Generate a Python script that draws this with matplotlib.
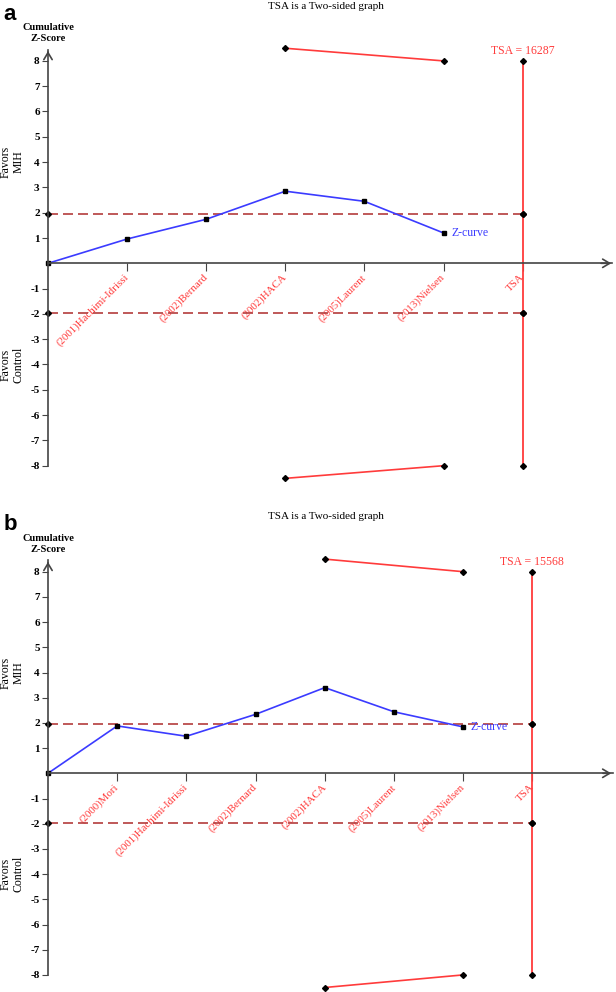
import matplotlib
matplotlib.use("Agg")
import matplotlib.pyplot as plt
import matplotlib.transforms as mtransforms

# panel a
studies_a = ['(2001)Hachimi-Idrissi', '(2002)Bernard', '(2002)HACA', '(2005)Laurent', '(2013)Nielsen']
zcurve_a = [0, 0.96, 1.74, 2.85, 2.45, 1.20]
tsa_a = 16287

# panel b
studies_b = ['(2000)Mori', '(2001)Hachimi-Idrissi', '(2002)Bernard', '(2002)HACA', '(2005)Laurent', '(2013)Nielsen']
zcurve_b = [0, 1.88, 1.47, 2.34, 3.40, 2.44, 1.84]
tsa_b = 15568

# monitoring boundary (starts at HACA, ends at Nielsen)
bound_upper = [8.5, 8.0]
bound_lower = [-8.5, -8.0]
conv_z = 1.96
tsa_limit = 8

W, H = 616, 992
serif = 'Liberation Serif'
red = '#ff3b3b'
blue = '#3b3bff'
dash_col = '#b43c3c'
axis_col = '#444444'

fig = plt.figure(figsize=(W / 100, H / 100), dpi=100)


def panel(letter, studies, zc, tsa_n, zero_px, ppu, spacing, ylim):
    left, right = 48, 614
    top = zero_px - ylim[1] * ppu
    bottom = zero_px - ylim[0] * ppu
    ax = fig.add_axes([left / W, 1 - bottom / H, (right - left) / W, (bottom - top) / H])
    xmax = (right - left) / spacing
    ax.set_xlim(0, xmax)
    ax.set_ylim(*ylim)
    ax.patch.set_alpha(0)

    n = len(studies)
    xs = list(range(n + 1))
    tsa_x = n + 1

    # axes
    for s in ['top', 'right']:
        ax.spines[s].set_visible(False)
    ax.spines['left'].set_position(('data', 0))
    ax.spines['bottom'].set_position(('data', 0))
    ax.spines['left'].set_bounds(-8, 8.45)
    ax.spines['bottom'].set_bounds(0, xmax - 0.02)
    for s in ['left', 'bottom']:
        ax.spines[s].set_color(axis_col)
        ax.spines[s].set_linewidth(1.2)
    ax.annotate('', xy=(0, 8.5), xytext=(0, 8.2),
                arrowprops=dict(arrowstyle='->,head_length=0.5,head_width=0.3', color=axis_col, lw=1.2))
    ax.annotate('', xy=(xmax, 0), xytext=(xmax - 0.2, 0), annotation_clip=False,
                arrowprops=dict(arrowstyle='->,head_length=0.5,head_width=0.3', color=axis_col, lw=1.2))

    yt = [v for v in range(-8, 9) if v != 0]
    ax.set_yticks(yt)
    ax.set_yticklabels([str(v) for v in yt], fontfamily=serif, fontsize=8, fontweight='bold')
    ax.tick_params(axis='y', direction='out', length=4, color=axis_col, pad=2)
    ax.set_xticks(list(range(1, n + 2)))
    ax.set_xticklabels(studies + ['TSA'], rotation=45, ha='right', va='center',
                       rotation_mode='anchor', color=red, fontfamily=serif, fontsize=7.8)
    ax.tick_params(axis='x', direction='out', length=6, color=axis_col, pad=3)

    # conventional boundaries
    for v in [conv_z, -conv_z]:
        ax.plot([0, tsa_x], [v, v], color=dash_col, lw=1.2, dashes=(6, 3))
        ax.plot([0, tsa_x], [v, v], ls='none', marker='D', ms=3, color='black', clip_on=False)

    # TSA vertical line
    ax.plot([tsa_x, tsa_x], [-tsa_limit, tsa_limit], color=red, lw=1.3)
    ax.plot([tsa_x] * 4, [tsa_limit, conv_z, -conv_z, -tsa_limit], ls='none',
            marker='D', ms=3, color='black', clip_on=False)
    ax.text(tsa_x, tsa_limit + 0.15, 'TSA = %d' % tsa_n, color=red, fontfamily=serif,
            fontsize=8.5, ha='center', va='bottom')

    # monitoring boundaries
    bx = [n - 2, n]
    for bv in [bound_upper, bound_lower]:
        ax.plot(bx, bv, color=red, lw=1.2, marker='D', ms=3, mfc='black', mec='black', clip_on=False)

    # Z-curve
    ax.plot(xs, zc, color=blue, lw=1.2, marker='s', ms=3.5, mfc='black', mec='black', clip_on=False)
    ax.text(xs[-1] + 0.1, zc[-1], 'Z-curve', color=blue, fontfamily=serif, fontsize=8.5,
            ha='left', va='center')

    ax.text(0, 8.7, 'Cumulative\nZ-Score', fontfamily=serif, fontsize=7.5, fontweight='bold',
            ha='center', va='bottom', linespacing=1.3)

    tr = mtransforms.blended_transform_factory(fig.transFigure, ax.transData)
    fig.text(12 / W, 4, 'Favors\nMIH', transform=tr, rotation=90, fontfamily=serif,
             fontsize=8.5, ha='center', va='center', linespacing=1.15)
    fig.text(12 / W, -4, 'Favors\nControl', transform=tr, rotation=90, fontfamily=serif,
             fontsize=8.5, ha='center', va='center', linespacing=1.15)

    title_y = zero_px - 257
    fig.text(326 / W, 1 - title_y / H, 'TSA is a Two-sided graph', fontfamily=serif,
             fontsize=8, ha='center', va='center')
    fig.text(10 / W, 1 - (title_y + 8) / H, letter, fontfamily='Liberation Sans',
             fontsize=16, fontweight='bold', ha='center', va='center')
    return ax


panel('a', studies_a, zcurve_a, tsa_a, 263.3, 25.3, 79.1, (-8.9, 8.9))
panel('b', studies_b, zcurve_b, tsa_b, 773.3, 25.2, 69.2, (-8.7, 8.9))

fig.savefig('out.png', dpi=100)
